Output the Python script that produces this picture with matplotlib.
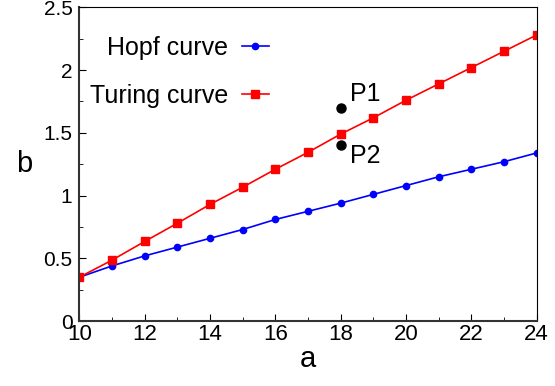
import numpy as np
import matplotlib
matplotlib.use("Agg")
from matplotlib import pyplot as plt
from matplotlib.ticker import MultipleLocator, FormatStrFormatter

plt.rcParams['font.family'] = ['Liberation Sans', 'DejaVu Sans']

# 数据
a_vals = [10, 11, 12, 13, 14, 15, 16, 17, 18, 19, 20, 21, 22, 23, 24]
hopf_b = [0.35, 0.44, 0.52, 0.59, 0.66, 0.73, 0.81, 0.875, 0.94, 1.01, 1.08, 1.15, 1.21, 1.27, 1.34]
turing_b = [0.35, 0.486, 0.635, 0.78, 0.93, 1.067, 1.21, 1.345, 1.49, 1.62, 1.76, 1.89, 2.02, 2.15, 2.28]
pts_a = [18, 18]
pts_b = [1.70, 1.40]
pts_names = ['P1', 'P2']

fig = plt.figure(figsize=(5.55, 3.86), dpi=100)
ax = fig.add_axes([0.143, 0.168, 0.824, 0.813])

ax.plot(a_vals, hopf_b, color='#0000ff', lw=1.2, marker='o', ms=4.5, label='Hopf curve')
ax.plot(a_vals, turing_b, color='#ff0000', lw=1.2, marker='s', ms=5.5, label='Turing curve')
ax.plot(pts_a, pts_b, 'o', color='black', ms=6.5, clip_on=False)

# 点的标注
ax.annotate(pts_names[0], (pts_a[0], pts_b[0]), xytext=(7, 5), textcoords='offset points', fontsize=18)
ax.annotate(pts_names[1], (pts_a[1], pts_b[1]), xytext=(7, -13), textcoords='offset points', fontsize=18)

ax.set_xlim(10, 24)
ax.set_ylim(0, 2.5)
ax.xaxis.set_major_locator(MultipleLocator(2))
ax.xaxis.set_minor_locator(MultipleLocator(1))
ax.yaxis.set_major_locator(MultipleLocator(0.5))
ax.yaxis.set_minor_locator(MultipleLocator(0.25))
ax.yaxis.set_major_formatter(FormatStrFormatter('%g'))
ax.tick_params(which='both', direction='in', top=False, right=False)
ax.tick_params(axis='x', labelsize=16, pad=2)
ax.tick_params(axis='y', labelsize=15, pad=5)
ax.tick_params(which='major', length=5)
ax.tick_params(which='minor', length=3)
for s in ['left', 'bottom']:
    ax.spines[s].set_linewidth(1.5)
    ax.spines[s].set_color('#333333')

ax.set_xlabel('a', fontsize=21, labelpad=0)
ax.set_ylabel('b', fontsize=21, rotation=0, labelpad=14, va='center')

ax.legend(loc='upper left', bbox_to_anchor=(-0.027, 0.98), frameon=False, markerfirst=False,
          fontsize=18, handlelength=1.1, handletextpad=0.55, labelspacing=0.95)

fig.savefig('out.png', dpi=100)
